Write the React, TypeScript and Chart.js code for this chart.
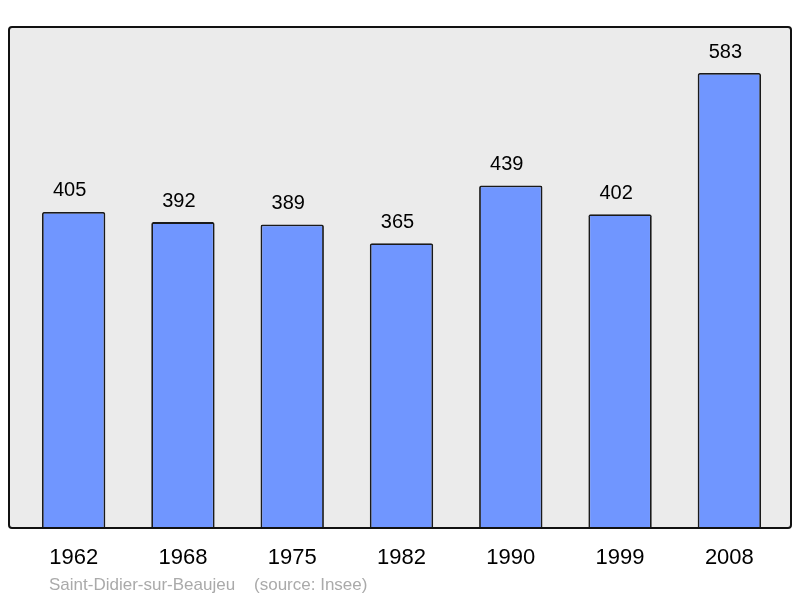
import React, { useEffect, useRef } from "react";
import { Chart, registerables } from "chart.js";

Chart.register(...registerables);

const years = ["1962", "1968", "1975", "1982", "1990", "1999", "2008"];
const population = [405, 392, 389, 365, 439, 402, 583];
const footerText = "Saint-Didier-sur-Beaujeu    (source: Insee)";

const FONT = "'Liberation Sans', Arial, sans-serif";

const framePlugin = {
  id: "frame",
  beforeDatasetsDraw(chart: any) {
    const { ctx, chartArea } = chart;
    const x0 = chartArea.left - 10;
    const x1 = chartArea.right + 7;
    const y0 = chartArea.top;
    const y1 = chartArea.bottom;
    ctx.save();
    ctx.beginPath();
    (ctx as any).roundRect(x0, y0, x1 - x0, y1 - y0, 3);
    ctx.fillStyle = "#ebebeb";
    ctx.fill();
    ctx.restore();
  },
  afterDatasetsDraw(chart: any) {
    const { ctx, chartArea } = chart;
    const x0 = chartArea.left - 10;
    const x1 = chartArea.right + 7;
    const y0 = chartArea.top;
    const y1 = chartArea.bottom;
    const meta = chart.getDatasetMeta(0);
    const xScale = chart.scales.x;
    ctx.save();
    ctx.font = `20px ${FONT}`;
    ctx.fillStyle = "#000";
    ctx.textAlign = "center";
    ctx.textBaseline = "middle";
    meta.data.forEach((bar: any, i: number) => {
      ctx.fillText(String(population[i]), bar.x - 4, bar.y - 21);
    });
    ctx.font = `22px ${FONT}`;
    years.forEach((y, i) => {
      ctx.fillText(y, xScale.getPixelForValue(i), y1 + 30);
    });
    ctx.beginPath();
    (ctx as any).roundRect(x0, y0, x1 - x0, y1 - y0, 3);
    ctx.lineWidth = 2;
    ctx.strokeStyle = "#111";
    ctx.stroke();
    ctx.font = `17px ${FONT}`;
    ctx.fillStyle = "#aaaaaa";
    ctx.textAlign = "left";
    ctx.fillText(footerText, 49, 585);
    ctx.restore();
  },
};

export default function App() {
  const ref = useRef<HTMLCanvasElement>(null);
  useEffect(() => {
    if (!ref.current) return;
    const chart = new Chart(ref.current, {
      type: "bar",
      data: {
        labels: years,
        datasets: [
          {
            data: population,
            backgroundColor: "#7096ff",
            borderColor: "#1a1a1a",
            borderWidth: 1.8,
            borderRadius: 2,
            borderSkipped: "bottom",
            barPercentage: 0.58,
            categoryPercentage: 1,
          },
        ],
      },
      options: {
        animation: false,
        responsive: false,
        maintainAspectRatio: false,
        layout: { padding: { left: 19, right: 16, top: 27, bottom: 70 } },
        plugins: { legend: { display: false }, tooltip: { enabled: false } },
        scales: {
          x: { display: false },
          y: { display: false, min: 0, max: 642 },
        },
      },
      plugins: [framePlugin],
    });
    return () => chart.destroy();
  }, []);
  return (
    <div style={{ position: "fixed", left: 0, top: 0, width: 800, height: 598, background: "#fff" }}>
      <canvas ref={ref} width={800} height={598} style={{ display: "block" }} />
    </div>
  );
}
